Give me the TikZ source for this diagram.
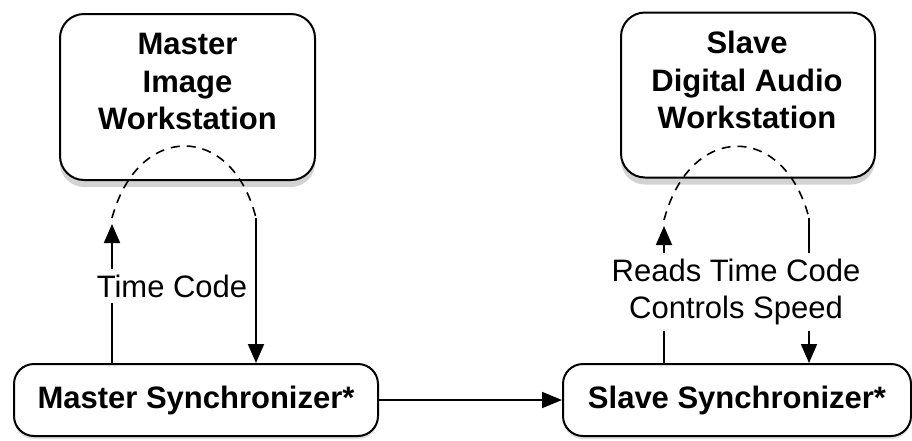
\documentclass[tikz,border=0pt]{standalone}
\usepackage{fontspec}
\setmainfont{Liberation Sans}
\usetikzlibrary{arrows.meta,shadows}
\begin{document}
\begin{tikzpicture}[x=1pt,y=-1pt,
  wsbox/.style={draw=black, line width=2pt, fill=white, rounded corners=24pt,
    drop shadow={shadow xshift=0pt, shadow yshift=-7pt, opacity=0.35}},
  syncbox/.style={draw=black, line width=2pt, fill=white, rounded corners=20pt,
    font=\fontsize{31}{37.5}\selectfont\bfseries, inner sep=0pt,
    drop shadow={shadow xshift=0pt, shadow yshift=-3pt, opacity=0.25}},
  boldtxt/.style={font=\fontsize{31}{37.5}\selectfont\bfseries, align=center, inner sep=0pt},
  lbl/.style={font=\fontsize{31}{36.5}\selectfont, align=center, fill=white, inner xsep=4pt, inner ysep=6pt},
  conn/.style={line width=1.8pt},
  tip/.style={-{Triangle[length=19pt,width=16pt]}},
  arcline/.style={line width=1.6pt, dash pattern=on 9pt off 7pt}]
\useasboundingbox (0,0) rectangle (912,440);
% boxes
\node[wsbox, minimum width=255pt, minimum height=166pt] (mws) at (187.5,97) {};
\node[boldtxt, anchor=north] (mwst) at (187.5,33) {Master\\Image\\Workstation};
\node[wsbox, minimum width=254pt, minimum height=165pt] (sws) at (748,95) {};
\node[boldtxt, anchor=north] (swst) at (747,31) {Slave\\Digital Audio\\Workstation};
\node[syncbox, minimum width=364pt, minimum height=72pt] (msync) at (196,400) {Master Synchronizer*};
\node[syncbox, minimum width=348pt, minimum height=72pt] (ssync) at (737,400) {Slave Synchronizer*};
% master loop
\coordinate (mupT) at (112,224);
\coordinate (marcL) at (112,218);
\coordinate (marcR) at (256,218);
\draw[conn,tip] (msync.north -| mupT) -- (mupT);
\draw[arcline] (marcL) .. controls (138,122) and (232,122) .. (marcR);
\draw[conn,tip] (marcR) -- (msync.north -| marcR);
\node[lbl] (mlab) at (172,286) {Time Code};
% slave loop
\coordinate (supT) at (664,226);
\coordinate (sarcL) at (664,220);
\coordinate (sarcR) at (809,218);
\draw[conn,tip] (ssync.north -| supT) -- (supT);
\draw[arcline] (sarcL) .. controls (690,122) and (784,122) .. (sarcR);
\draw[conn,tip] (sarcR) -- (ssync.north -| sarcR);
\node[lbl] (slab) at (736,292) {Reads Time Code\\Controls Speed};
% link
\draw[conn,-{Triangle[length=20pt,width=16pt]}] (msync.east) -- (ssync.west);
\end{tikzpicture}
\end{document}
